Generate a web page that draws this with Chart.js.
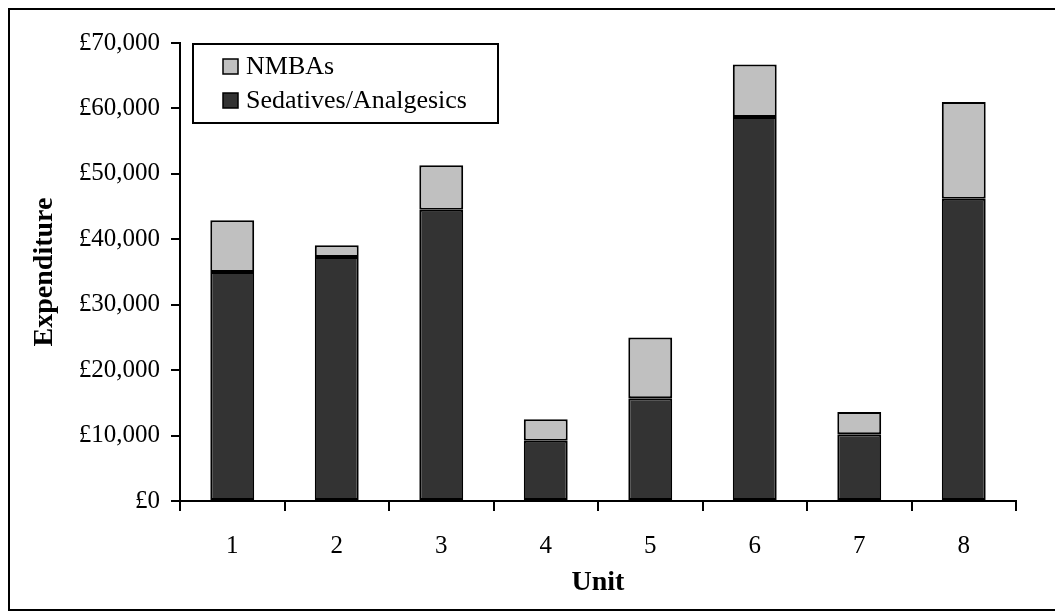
<!DOCTYPE html>
<html>
<head>
<meta charset="utf-8">
<script src="https://cdn.jsdelivr.net/npm/chart.js@4.4.0/dist/chart.umd.min.js"></script>
<style>
  html, body { margin: 0; padding: 0; background: #fff; overflow: hidden; }
  #wrap { position: relative; width: 1055px; height: 614px; }
  #frame { position: absolute; left: 8px; top: 8px; width: 1060px; height: 603px; border: 2px solid #000; box-sizing: border-box; pointer-events: none; }
  canvas { position: absolute; left: 0; top: 0; }
</style>
</head>
<body>
<div id="wrap">
  <canvas id="chart" width="1055" height="614"></canvas>
  <div id="frame"></div>
</div>
<script>
// ── Data ──────────────────────────────────────────────────────────────────
const units      = ['1', '2', '3', '4', '5', '6', '7', '8'];
const sedatives  = [35000, 37300, 44500, 9200, 15700, 58700, 10200, 46200];
const nmbas      = [7900, 1800, 6800, 3300, 9300, 8000, 3400, 14800];
const yTickStep  = 10000;
const yMax       = 70000;

const FONT = '"Liberation Serif", "Times New Roman", serif';

// Legend drawn inside the plot, boxed, NMBAs on top
const boxLegend = {
    id: 'boxLegend',
    afterDraw(chart) {
        const c = chart.ctx;
        const x = 193, y = 44, w = 305, h = 79;
        c.save();
        c.fillStyle = '#fff';
        c.fillRect(x, y, w, h);
        c.lineWidth = 2;
        c.strokeStyle = '#000';
        c.strokeRect(x, y, w, h);
        const items = chart.data.datasets.slice().reverse();
        c.font = '26px ' + FONT;
        c.textBaseline = 'middle';
        items.forEach((ds, i) => {
            const cy = y + 22 + i * 34;
            c.fillStyle = ds.backgroundColor;
            c.fillRect(223, cy - 7, 15, 15);
            c.lineWidth = 1.5;
            c.strokeRect(223, cy - 7, 15, 15);
            c.fillStyle = '#000';
            c.fillText(ds.label, 246, cy + 1);
        });
        c.restore();
    }
};

const ctx = document.getElementById('chart').getContext('2d');
const chart = new Chart(ctx, {
    type: 'bar',
    data: {
        labels: units,
        datasets: [
            { label: 'Sedatives/Analgesics', data: sedatives, backgroundColor: '#333333', borderColor: '#000', borderWidth: 2, borderSkipped: false },
            { label: 'NMBAs',                data: nmbas,     backgroundColor: '#c0c0c0', borderColor: '#000', borderWidth: 2, borderSkipped: false }
        ]
    },
    options: {
        responsive: false,
        animation: false,
        layout: { padding: { top: 43, right: 39, left: 0, bottom: 0 } },
        datasets: { bar: { categoryPercentage: 1, barPercentage: 0.42 } },
        plugins: { legend: { display: false }, tooltip: { enabled: false } },
        scales: {
            x: {
                stacked: true,
                afterFit: s => { s.height = 113; },
                border: { color: '#000', width: 2 },
                grid: { drawOnChartArea: false, color: '#000', lineWidth: 2, tickLength: 10, offset: true },
                ticks: { color: '#000', font: { family: FONT, size: 25 }, padding: 20 },
                title: { display: true, text: 'Unit', color: '#000', font: { family: FONT, size: 28, weight: 'bold' }, padding: { top: 0, bottom: 14 } }
            },
            y: {
                stacked: true,
                min: 0,
                max: yMax,
                afterFit: s => { s.width = 180; },
                border: { color: '#000', width: 2 },
                grid: { drawOnChartArea: false, color: '#000', lineWidth: 2, tickLength: 9 },
                ticks: {
                    stepSize: yTickStep,
                    color: '#000',
                    padding: 11,
                    font: { family: FONT, size: 25 },
                    callback: v => '£' + v.toLocaleString('en-GB')
                },
                title: { display: true, text: 'Expenditure', color: '#000', font: { family: FONT, size: 28, weight: 'bold' }, padding: { top: 28, bottom: 0 } }
            }
        }
    },
    plugins: [boxLegend]
});
</script>
</body>
</html>
